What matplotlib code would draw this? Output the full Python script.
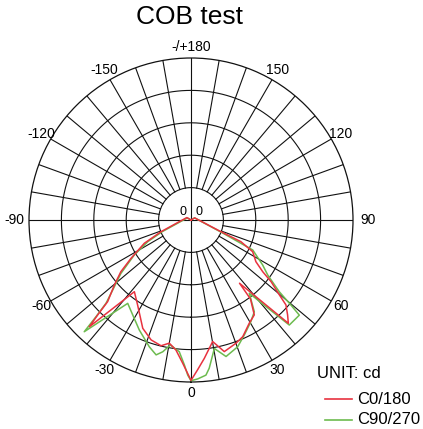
import numpy as np
import matplotlib
matplotlib.use('Agg')
import matplotlib.pyplot as plt
from matplotlib.lines import Line2D

plt.rcParams['font.family'] = ['Liberation Sans', 'DejaVu Sans']

# polar data, angle in degrees (0 at bottom), intensity in ring units
ang_c0 = [-180, -120, -68.7, -63.5, -57.4, -53.6, -49.7, -45.6, -44.5, -43.6,
          -38.3, -32.1, -24.0, -18.4, -13.4, -10.0, -6.6, -3.3, 0,
          2.5, 5.5, 10.1, 14.2, 20.0, 23.9, 29.4, 33.7, 37.0, 37.5,
          43.3, 45.5, 48.2, 49.7, 52.4, 54.2, 57.3, 62.8, 66.5, 68.7, 120, 180]
val_c0 = [0, 0.15, 0.99, 1.61, 2.20, 2.69, 3.10, 3.60, 4.11, 4.55,
          2.82, 3.10, 3.66, 3.90, 3.99, 3.86, 4.04, 4.43, 4.95,
          4.63, 4.29, 3.81, 4.19, 4.05, 3.94, 3.66, 3.52, 3.05, 2.46,
          4.38, 4.18, 3.93, 3.58, 3.12, 2.73, 2.38, 2.14, 1.68, 0.99, 0.13, 0]

ang_c90 = [-180, -120, -68.0, -63.4, -58.3, -52.7, -48.2, -45.6, -44.5, -43.7,
           -37.2, -31.5, -25.2, -18.2, -14.5, -12.1, -9.4, -5.1, -2.6, -1.2, 0,
           2.4, 5.5, 7.0, 10.3, 14.4, 20.2, 24.9, 30.5, 34.6, 38.5,
           43.1, 48.7, 49.6, 50.9, 54.4, 57.9, 64.1, 68.0, 120, 180]
val_c90 = [0, 0.13, 0.95, 1.49, 2.06, 2.72, 3.24, 3.67, 4.18, 4.77,
           3.23, 3.44, 3.75, 4.12, 4.30, 4.16, 3.91, 4.08, 4.48, 4.79, 4.96,
           4.91, 4.81, 4.61, 4.03, 4.35, 4.17, 3.91, 3.64, 3.44, 2.89,
           4.44, 4.45, 4.05, 3.51, 2.91, 2.61, 2.12, 1.0, 0.13, 0]

tick_angles = [0, 30, 60, 90, 120, 150, 180, -150, -120, -90, -60, -30]
tick_labels = ['0', '30', '60', '90', '120', '150', '-/+180',
               '-150', '-120', '-90', '-60', '-30']

red = '#e8323f'
green = '#6dbb4f'

W, H = 423, 429
fig = plt.figure(figsize=(W/100, H/100), dpi=100)
cx, cy, R = 191, 220, 162
ax = fig.add_axes([(cx-R)/W, 1-(cy+R)/H, 2*R/W, 2*R/H], projection='polar')
ax.set_theta_zero_location('S')
ax.set_theta_direction(1)
ax.set_rlim(0, 5)
ax.grid(False)
ax.set_xticks([])
ax.set_yticks([])
ax.spines['polar'].set_linewidth(0.9)
ax.spines['polar'].set_color('#111111')

# rings
th = np.linspace(0, 2*np.pi, 361)
for r in [1, 2, 3, 4]:
    ax.plot(th, np.full_like(th, r), color='#111111', lw=0.8, zorder=1)
# spokes
for a in range(0, 360, 10):
    r0 = 0 if a % 90 == 0 else 1
    ax.plot([np.radians(a)]*2, [r0, 5], color='#111111', lw=0.8, zorder=1)

ax.plot(np.radians(ang_c90), val_c90, color=green, lw=1.1, zorder=3)
ax.plot(np.radians(ang_c0), val_c0, color=red, lw=1.1, zorder=4)

for a, s in zip(tick_angles, tick_labels):
    rr = 5.45 if abs(a) == 90 else 5.33
    ax.text(np.radians(a), rr, s, ha='center', va='center', fontsize=10)

ax.text(np.radians(-136), 0.36, '0', ha='center', va='center', fontsize=9)
ax.text(np.radians(136), 0.36, '0', ha='center', va='center', fontsize=9)

fig.text(189/W, 1-16.5/H, 'COB test', ha='center', va='center', fontsize=19)

# legend block
fig.text(317/W, 1-374/H, 'UNIT: cd', ha='left', va='center', fontsize=12)
for yy, col, lab in [(399, red, 'C0/180'), (420, green, 'C90/270')]:
    fig.add_artist(Line2D([325/W, 352/W], [1-yy/H, 1-yy/H], color=col, lw=1.2))
    fig.text(357/W, 1-yy/H, lab, ha='left', va='center', fontsize=12)

fig.savefig('out.png', dpi=100)
